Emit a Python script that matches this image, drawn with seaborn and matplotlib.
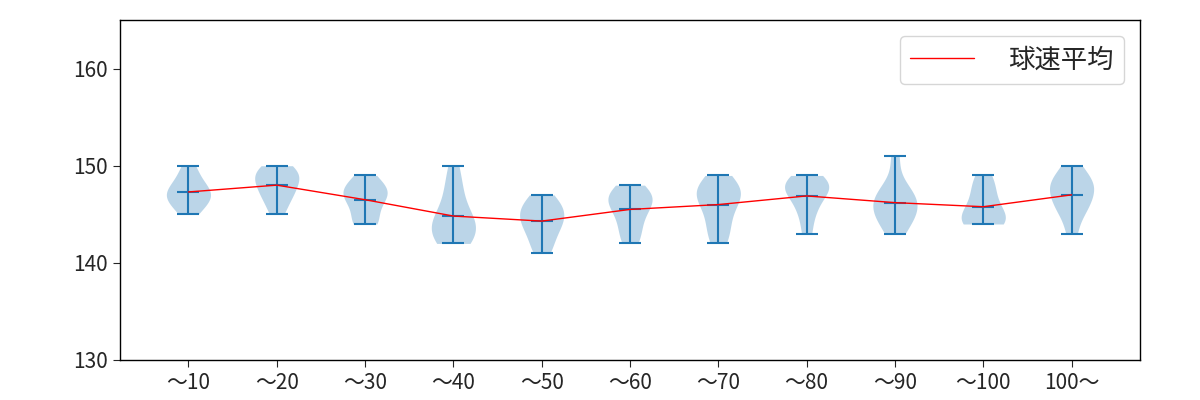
import numpy as np
import pandas as pd
import matplotlib
matplotlib.use("Agg")
import matplotlib.pyplot as plt
import seaborn as sns

categories = ["～10", "～20", "～30", "～40", "～50", "～60", "～70", "～80", "～90", "～100", "100～"]
speeds = [
    [145, 146, 146, 147, 147, 147, 148, 148, 149, 150],
    [145, 146, 147, 147, 148, 148, 149, 149, 149, 150, 150],
    [144, 144, 145, 146, 147, 147, 148, 148, 149, 147],
    [142, 142, 143, 143, 144, 144, 145, 145, 147, 148, 150],
    [141, 142, 143, 144, 144, 145, 145, 146, 146, 147],
    [142, 143, 144, 145, 146, 146, 147, 147, 148, 147],
    [142, 143, 144, 145, 146, 147, 147, 148, 148, 149, 147],
    [143, 145, 146, 147, 148, 148, 148, 149, 148],
    [143, 144, 145, 145, 146, 146, 147, 147, 148, 151],
    [144, 144, 144, 145, 145, 146, 147, 149, 148],
    [143, 145, 146, 147, 148, 148, 148, 149, 150, 146],
]
legend_label = "球速平均"

sns.set_style("white")
plt.rcParams["font.family"] = ["Noto Sans CJK JP", "DejaVu Sans"]

rows = [(c, v) for c, vals in zip(categories, speeds) for v in vals]
df = pd.DataFrame(rows, columns=["cat", "speed"])

fig, ax = plt.subplots(figsize=(12, 4), dpi=100)
fig.subplots_adjust(left=0.1, right=0.95, bottom=0.1, top=0.95)

blue = "#1f77b4"
sns.violinplot(data=df, x="cat", y="speed", order=categories, cut=0, bw_method="scott",
               density_norm="width", width=0.5, inner=None, color=blue, saturation=1,
               linewidth=0, alpha=0.3, ax=ax)

pos = np.arange(len(categories))
mins = [min(v) for v in speeds]
maxs = [max(v) for v in speeds]
means = [float(np.mean(v)) for v in speeds]
ax.vlines(pos, mins, maxs, color=blue, lw=1.5)
ax.hlines(mins, pos - 0.125, pos + 0.125, color=blue, lw=1.5)
ax.hlines(maxs, pos - 0.125, pos + 0.125, color=blue, lw=1.5)
ax.hlines(means, pos - 0.125, pos + 0.125, color=blue, lw=1.5)

sns.lineplot(x=pos, y=means, color="red", lw=1, ax=ax, label=legend_label)

ax.set_xlim(-0.775, 10.775)
ax.set_ylim(130, 165)
ax.set_yticks([130, 140, 150, 160])
ax.set_xticks(pos)
ax.set_xticklabels(categories)
ax.set_xlabel("")
ax.set_ylabel("")
ax.tick_params(axis="both", labelsize=15, length=5, direction="out", left=True, bottom=True)
for s in ax.spines.values():
    s.set_visible(True)
    s.set_color("black")
    s.set_linewidth(1)
ax.legend(loc="upper right", fontsize=19, handlelength=2.4, handletextpad=1.3,
          borderaxespad=0.6)

fig.savefig("out.png", dpi=100)
